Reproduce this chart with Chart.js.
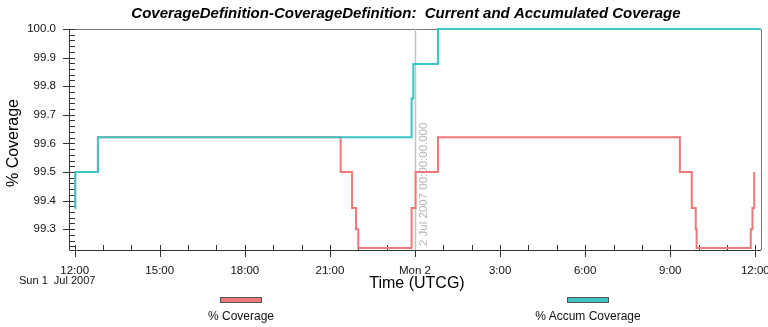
<!DOCTYPE html>
<html lang="en">
<head>
  <meta charset="UTF-8">
  <script src="https://cdn.jsdelivr.net/npm/chart.js"></script>
  <title>Coverage</title>
  <style>
    body { margin: 0; background: #fff; font-family: "Liberation Sans", Arial, sans-serif; }
    #wrap { position: relative; width: 768px; height: 327px; }
    .leg { position: absolute; top: 297px; width: 160px; margin-left: -80px; text-align: center; font-size: 12px; color: #111; }
    .leg span { display: block; width: 40px; height: 4px; margin: 0 auto 6px; border: 1px solid #555; }
  </style>
</head>
<body>
  <div id="wrap">
    <canvas id="chart" width="768" height="327"></canvas>
    <div class="leg" style="left:241px"><span style="background:#f07878"></span>% Coverage</div>
    <div class="leg" style="left:588px"><span style="background:#3cc4c4"></span>% Accum Coverage</div>
  </div>

  <script>
    // hours since Sun 1 Jul 2007 12:00 UTCG
    const covTimes  = [0, 0.02, 0.82, 9.38, 9.78, 9.92, 10.0, 11.88, 12.02, 12.81, 21.34, 21.76, 21.9, 21.93, 23.84, 23.9, 23.96];
    const covValues = [99.374, 99.5, 99.621, 99.5, 99.374, 99.3, 99.234, 99.374, 99.5, 99.621, 99.5, 99.374, 99.3, 99.234, 99.3, 99.374, 99.5];

    const accTimes  = [0, 0.02, 0.82, 11.88, 11.94, 12.81, 24.2];
    const accValues = [99.374, 99.5, 99.621, 99.757, 99.878, 100.0, 100.0];

    const xTicks = [0, 3, 6, 9, 12, 15, 18, 21, 24];
    const xTickLabels = ["12:00", "15:00", "18:00", "21:00", "Mon 2", "3:00", "6:00", "9:00", "12:00"];
    const yTicks = [99.3, 99.4, 99.5, 99.6, 99.7, 99.8, 99.9, 100.0];

    const FONT = '"Liberation Sans", Arial, sans-serif';

    const pts = (t, v) => t.map((x, i) => ({ x, y: v[i] }));

    const extras = {
      id: "extras",
      beforeDatasetsDraw(chart) {
        const { ctx, chartArea: a, scales: { x, y } } = chart;
        ctx.save();
        // frame
        ctx.strokeStyle = "#777";
        ctx.lineWidth = 1;
        ctx.beginPath();
        ctx.moveTo(a.left, a.top + 0.5);
        ctx.lineTo(a.right + 0.5, a.top + 0.5);
        ctx.lineTo(a.right + 0.5, a.bottom);
        ctx.stroke();
        ctx.strokeStyle = "#333";
        ctx.beginPath();
        ctx.moveTo(a.left + 0.5, a.top);
        ctx.lineTo(a.left + 0.5, a.bottom + 0.5);
        ctx.lineTo(a.right, a.bottom + 0.5);
        // y ticks: major every 0.1, minor every 0.02
        for (let k = 0; k <= 38; k++) {
          const v = 100 - k * 0.02;
          const py = Math.round(y.getPixelForValue(v)) + 0.5;
          const major = k % 5 === 0;
          ctx.moveTo(a.left - (major ? 6 : 0), py);
          ctx.lineTo(a.left + 6, py);
        }
        // x ticks: major every 3h, minor hourly
        for (let h = 0; h <= 24; h++) {
          const px = Math.round(x.getPixelForValue(h)) + 0.5;
          const major = h % 3 === 0;
          ctx.moveTo(px, a.bottom - 5);
          ctx.lineTo(px, a.bottom + (major ? 7 : 0));
        }
        ctx.stroke();

        // marker at 2 Jul 00:00
        const mx = Math.round(x.getPixelForValue(12)) + 0.5;
        ctx.strokeStyle = "#c4c4c4";
        ctx.lineWidth = 1.5;
        ctx.beginPath();
        ctx.moveTo(mx, a.top);
        ctx.lineTo(mx, a.bottom);
        ctx.stroke();
        ctx.translate(mx + 8, a.bottom - 4);
        ctx.rotate(-Math.PI / 2);
        ctx.fillStyle = "#b4b4b4";
        ctx.font = "11.5px " + FONT;
        ctx.textBaseline = "middle";
        ctx.textAlign = "left";
        ctx.fillText("2 Jul 2007 00:00:00.000", 0, 0);
        ctx.restore();
      },
      afterDraw(chart) {
        const { ctx } = chart;
        ctx.save();
        ctx.fillStyle = "#000";
        ctx.textAlign = "center";
        ctx.textBaseline = "middle";
        ctx.font = "italic bold 15px " + FONT;
        ctx.fillText("CoverageDefinition-CoverageDefinition:  Current and Accumulated Coverage", 406, 14);
        ctx.font = "16px " + FONT;
        ctx.fillText("Time (UTCG)", 417, 284);
        ctx.font = "11px " + FONT;
        ctx.textAlign = "left";
        ctx.fillStyle = "#111";
        ctx.fillText("Sun 1  Jul 2007", 19, 281);
        ctx.translate(14, 143);
        ctx.rotate(-Math.PI / 2);
        ctx.textAlign = "center";
        ctx.fillStyle = "#000";
        ctx.font = "16px " + FONT;
        ctx.fillText("% Coverage", 0, 0);
        ctx.restore();
      }
    };

    new Chart(document.getElementById("chart"), {
      type: "line",
      data: {
        datasets: [
          { label: "% Coverage", data: pts(covTimes, covValues), borderColor: "#f07878", order: 1, clip: false },
          { label: "% Accum Coverage", data: pts(accTimes, accValues), borderColor: "#3cc4c4", order: 0, clip: false }
        ]
      },
      options: {
        responsive: false,
        animation: false,
        layout: { padding: { left: 0, top: 29, right: 7, bottom: 0 } },
        elements: {
          line: { borderWidth: 2, stepped: true, fill: false, tension: 0 },
          point: { radius: 0 }
        },
        plugins: { legend: { display: false }, title: { display: false }, tooltip: { enabled: false } },
        scales: {
          x: {
            type: "linear",
            min: -0.2,
            max: 24.2,
            grid: { display: false },
            border: { display: false },
            afterBuildTicks: s => { s.ticks = xTicks.map(v => ({ value: v })); },
            afterFit: s => { s.height = 77; s.paddingLeft = 0; s.paddingRight = 0; },
            ticks: {
              autoSkip: false,
              maxRotation: 0,
              padding: 6,
              color: "#111",
              font: { family: FONT, size: 11.5 },
              callback: (v, i) => xTickLabels[i]
            }
          },
          y: {
            min: 99.227,
            max: 100.0,
            grid: { display: false },
            border: { display: false },
            afterBuildTicks: s => { s.ticks = yTicks.map(v => ({ value: v })); },
            afterFit: s => { s.width = 69; s.paddingTop = 0; s.paddingBottom = 0; },
            ticks: {
              autoSkip: false,
              padding: 5,
              color: "#111",
              font: { family: FONT, size: 11.5 },
              callback: v => v.toFixed(1)
            }
          }
        }
      },
      plugins: [extras]
    });
  </script>
</body>
</html>
